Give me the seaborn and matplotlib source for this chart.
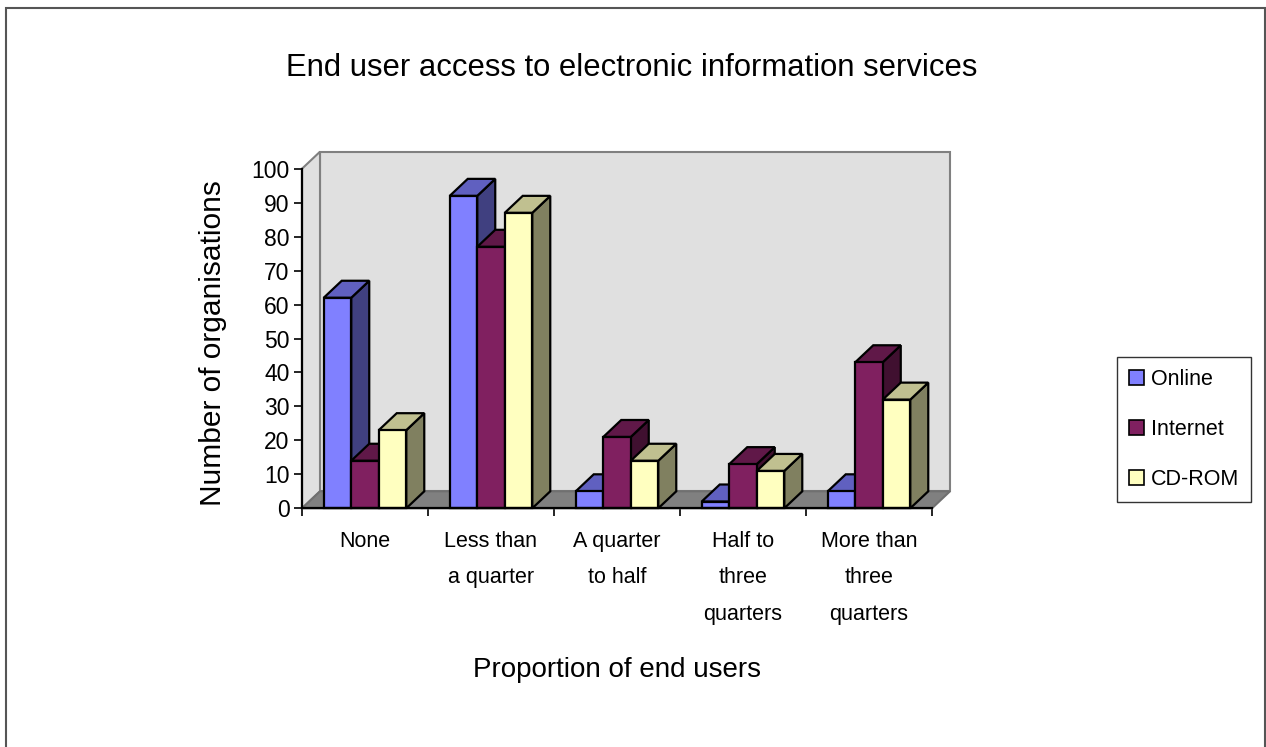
import numpy as np
import pandas as pd
import seaborn as sns
import matplotlib
matplotlib.use("Agg")
import matplotlib.pyplot as plt
from matplotlib.patches import Polygon, Rectangle, Patch

categories = ["None", "Less than\na quarter", "A quarter\nto half",
              "Half to\nthree\nquarters", "More than\nthree\nquarters"]
series = ["Online", "Internet", "CD-ROM"]
online = [62, 92, 5, 2, 5]
internet = [14, 77, 21, 13, 43]
cdrom = [23, 87, 14, 11, 32]
yticks = [0, 10, 20, 30, 40, 50, 60, 70, 80, 90, 100]

front_colors = ["#8080FF", "#802060", "#FFFFC0"]
top_colors = ["#6060C0", "#601848", "#C0C090"]
side_colors = ["#404080", "#401030", "#808060"]

df = pd.DataFrame({
    "category": categories * 3,
    "value": online + internet + cdrom,
    "series": [s for s in series for _ in categories],
})

sns.set_theme(style="white")
plt.rcParams["font.family"] = ["Liberation Sans", "DejaVu Sans"]
plt.rcParams["text.color"] = "black"
plt.rcParams["xtick.color"] = "black"
plt.rcParams["ytick.color"] = "black"
plt.rcParams["axes.labelcolor"] = "black"

W, H = 1266, 747
fig = plt.figure(figsize=(W / 100, H / 100), dpi=100)
ax_l, ax_r, ax_t, ax_b = 302, 932, 168.7, 508.3
ax = fig.add_axes([ax_l / W, 1 - ax_b / H, (ax_r - ax_l) / W, (ax_b - ax_t) / H])
ax.set_facecolor("none")

sns.barplot(data=df, x="category", y="value", hue="series", palette=front_colors,
            width=0.655, edgecolor="black", linewidth=1.6, ax=ax, legend=False,
            saturation=1)

ax.set_xlim(-0.5, 4.5)
ax.set_ylim(0, 100)

px_per_cat = (ax_r - ax_l) / 5
px_per_unit = (ax_b - ax_t) / 100
DX = 18 / px_per_cat
DY = 17 / px_per_unit

# walls and floor
wall_kw = dict(clip_on=False, linewidth=1.5)
ax.add_patch(Polygon([(-0.5 + DX, DY), (4.5 + DX, DY), (4.5 + DX, 100 + DY), (-0.5 + DX, 100 + DY)],
                     closed=True, facecolor="#E0E0E0", edgecolor="#808080", zorder=0.5, **wall_kw))
ax.add_patch(Polygon([(-0.5, 0), (-0.5, 100), (-0.5 + DX, 100 + DY), (-0.5 + DX, DY)],
                     closed=True, facecolor="#E0E0E0", edgecolor="#808080", zorder=0.6, **wall_kw))
ax.add_patch(Polygon([(-0.5, 0), (4.5, 0), (4.5 + DX, DY), (-0.5 + DX, DY)],
                     closed=True, facecolor="#808080", edgecolor="#707070", zorder=0.7, **wall_kw))

# 3D faces for bars
bars = sorted([p for p in ax.patches if isinstance(p, Rectangle) and p.get_height() > 0],
              key=lambda p: p.get_x())
front_rgba = [matplotlib.colors.to_rgba(c) for c in front_colors]
z = 2.0
for p in bars:
    x0, w, h = p.get_x(), p.get_width(), p.get_height()
    fc = p.get_facecolor()
    idx = int(np.argmin([sum((a - b) ** 2 for a, b in zip(fc[:3], c[:3])) for c in front_rgba]))
    side = Polygon([(x0 + w, 0), (x0 + w + DX, DY), (x0 + w + DX, h + DY), (x0 + w, h)],
                   closed=True, facecolor=side_colors[idx], edgecolor="black", linewidth=1.6,
                   zorder=z, clip_on=False, joinstyle="miter")
    top = Polygon([(x0, h), (x0 + DX, h + DY), (x0 + w + DX, h + DY), (x0 + w, h)],
                  closed=True, facecolor=top_colors[idx], edgecolor="black", linewidth=1.6,
                  zorder=z + 0.01, clip_on=False, joinstyle="miter")
    ax.add_patch(side)
    ax.add_patch(top)
    p.set_zorder(z + 0.02)
    p.set_clip_on(False)
    p.set_joinstyle("miter")
    z += 0.1

# axes styling
for s in ["top", "right"]:
    ax.spines[s].set_visible(False)
for s in ["left", "bottom"]:
    ax.spines[s].set_color("black")
    ax.spines[s].set_linewidth(1.6)
    ax.spines[s].set_zorder(50)
ax.set_yticks(yticks)
ax.set_yticklabels([str(v) for v in yticks], fontsize=16.5)
ax.tick_params(axis="y", direction="out", length=6, width=1.2, color="black", pad=3, left=True)
ax.set_xticks(range(len(categories)))
ax.set_xticklabels(categories, fontsize=15.5, linespacing=1.97, va="top")
ax.tick_params(axis="x", which="major", length=0, pad=16, bottom=False)
ax.set_xticks(np.arange(-0.5, 5.0, 1.0), minor=True)
ax.tick_params(axis="x", which="minor", direction="out", length=6, width=1.2, color="black", bottom=True)
ax.set_xlabel("")
ax.set_ylabel("")

# texts
fig.text(632 / W, 1 - 68 / H, "End user access to electronic information services",
         fontsize=22.3, ha="center", va="center")
fig.text(213 / W, 1 - 343 / H, "Number of organisations", rotation=90,
         fontsize=21.5, ha="center", va="center")
fig.text(617 / W, 1 - 670 / H, "Proportion of end users",
         fontsize=20, ha="center", va="center")

# legend
handles = [Patch(facecolor=c, edgecolor="black", linewidth=1.2) for c in front_colors]
leg = fig.legend(handles, series, loc="upper left",
                 bbox_to_anchor=(1117 / W, 1 - 357 / H), fontsize=15.5,
                 frameon=True, fancybox=False, edgecolor="black",
                 handlelength=0.72, handleheight=0.72, handletextpad=0.3,
                 labelspacing=1.35, borderpad=0.55, borderaxespad=0)
leg.get_frame().set_linewidth(1.0)

# outer border
fig.patches.append(Rectangle((6 / W, -0.02), (1265 - 6) / W, (H - 8) / H + 0.02,
                             transform=fig.transFigure, fill=False,
                             edgecolor="#555555", linewidth=1.5))

fig.savefig("out.png", dpi=100)
